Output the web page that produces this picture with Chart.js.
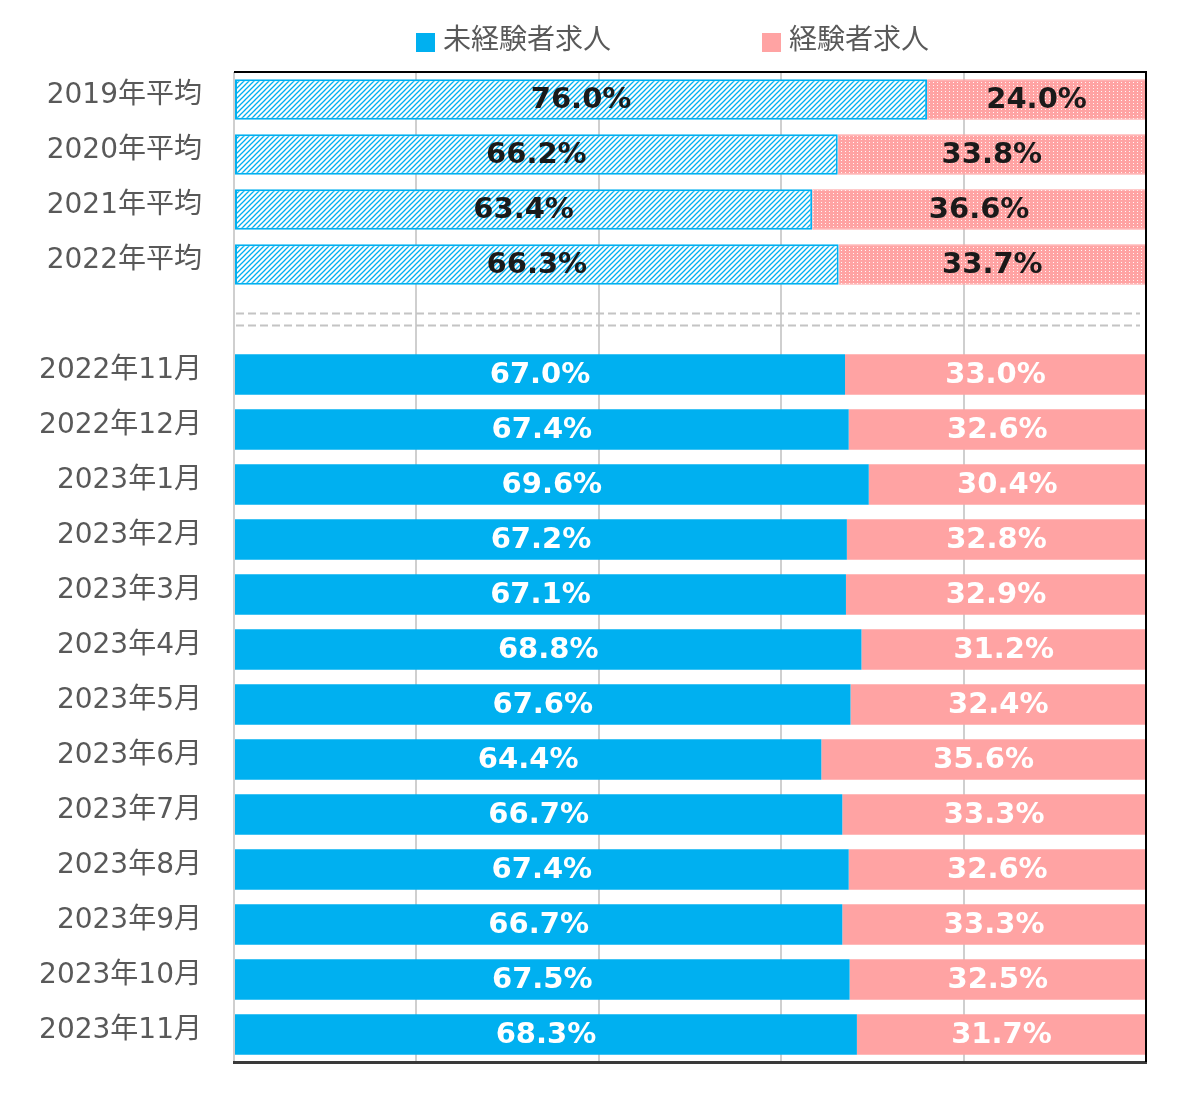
<!DOCTYPE html>
<html>
<head>
<meta charset="utf-8">
<script src="https://cdn.jsdelivr.net/npm/chart.js@4.4.1/dist/chart.umd.min.js"></script>
<style>
html,body{margin:0;padding:0;background:#fff;}
#wrap{width:1200px;height:1106px;position:relative;}
</style>
</head>
<body>
<div id="wrap"><canvas id="c" width="1200" height="1106"></canvas></div>
<script>
// ---- data ----
const categories = ['2019年平均','2020年平均','2021年平均','2022年平均','',
  '2022年11月','2022年12月','2023年1月','2023年2月','2023年3月','2023年4月',
  '2023年5月','2023年6月','2023年7月','2023年8月','2023年9月','2023年10月','2023年11月'];
const inexperienced = [76.0,66.2,63.4,66.3,null,67.0,67.4,69.6,67.2,67.1,68.8,67.6,64.4,66.7,67.4,66.7,67.5,68.3];
const experienced   = [24.0,33.8,36.6,33.7,null,33.0,32.6,30.4,32.8,32.9,31.2,32.4,35.6,33.3,32.6,33.3,32.5,31.7];
const seriesNames = ['未経験者求人','経験者求人'];
const xTicks = [0,20,40,60,80,100];
const averageCount = 4;

const BLUE = '#00b0f0';
const PINK = '#ffa3a3';

function bluePattern(){
  const t = document.createElement('canvas'); t.width = 5; t.height = 5;
  const g = t.getContext('2d');
  g.fillStyle = '#ffffff'; g.fillRect(0,0,5,5);
  g.strokeStyle = BLUE; g.lineWidth = 1.3;
  g.beginPath();
  g.moveTo(-1,6); g.lineTo(6,-1);
  g.moveTo(-1,1); g.lineTo(1,-1);
  g.moveTo(4,6); g.lineTo(6,4);
  g.stroke();
  return g.createPattern(t,'repeat');
}
function pinkPattern(){
  const t = document.createElement('canvas'); t.width = 4; t.height = 3;
  const g = t.getContext('2d');
  g.fillStyle = PINK; g.fillRect(0,0,4,3);
  g.fillStyle = 'rgba(255,255,255,0.9)';
  g.fillRect(1,1,1,1);
  return g.createPattern(t,'repeat');
}
const bPat = bluePattern(), pPat = pinkPattern();

const FONT = '"DejaVu Sans","Noto Sans CJK JP",sans-serif';

const labelsPlugin = {
  id:'barLabels',
  afterDatasetsDraw(chart){
    const ctx = chart.ctx;
    ctx.save();
    ctx.font = 'bold 29px ' + FONT;
    ctx.textAlign = 'center';
    ctx.textBaseline = 'middle';
    chart.data.datasets.forEach((ds, i) => {
      const meta = chart.getDatasetMeta(i);
      meta.data.forEach((bar, j) => {
        const v = ds.data[j];
        if (v == null) return;
        const p = bar.getProps(['x','base','y'], true);
        ctx.fillStyle = j < averageCount ? '#1a1a1a' : '#ffffff';
        ctx.fillText(v.toFixed(1) + '%', (p.x + p.base)/2, p.y + 1);
      });
    });
    ctx.restore();
  }
};

const framePlugin = {
  id:'frame',
  beforeDatasetsDraw(chart){
    const {ctx, chartArea:a, scales:{y}} = chart;
    ctx.save();
    const gy = y.getPixelForValue(averageCount);
    ctx.strokeStyle = '#c4c4c4'; ctx.lineWidth = 2; ctx.setLineDash([8,4]);
    [gy-6, gy+6].forEach(yy => {
      ctx.beginPath(); ctx.moveTo(a.left+2, yy); ctx.lineTo(a.right-6, yy); ctx.stroke();
    });
    ctx.restore();
  },
  afterDraw(chart){
    const {ctx, chartArea:a} = chart;
    ctx.save();
    ctx.strokeStyle = '#000'; ctx.lineWidth = 2;
    ctx.beginPath(); ctx.moveTo(a.left, a.top); ctx.lineTo(a.right+1, a.top); ctx.stroke();
    ctx.beginPath(); ctx.moveTo(a.right, a.top); ctx.lineTo(a.right, a.bottom); ctx.stroke();
    // legend
    ctx.font = '28px ' + FONT;
    ctx.textBaseline = 'middle';
    ctx.textAlign = 'left';
    const items = [{x:416, c:BLUE},{x:762, c:PINK}];
    items.forEach((it, k) => {
      ctx.fillStyle = it.c; ctx.fillRect(it.x, 33, 19, 19);
      ctx.fillStyle = '#595959';
      ctx.fillText(chart.data.datasets[k].label, it.x + 27, 42);
    });
    ctx.restore();
  }
};

new Chart(document.getElementById('c'), {
  type:'bar',
  data:{
    labels: categories,
    datasets:[
      { label: seriesNames[0], data: inexperienced,
        backgroundColor: inexperienced.map((v,i)=> i < averageCount ? bPat : BLUE),
        borderColor: BLUE,
        borderWidth: inexperienced.map((v,i)=> i < averageCount ? 2 : 0),
        borderSkipped: false },
      { label: seriesNames[1], data: experienced,
        backgroundColor: experienced.map((v,i)=> i < averageCount ? pPat : PINK),
        borderColor: PINK,
        borderWidth: experienced.map((v,i)=> i < averageCount ? 1 : 0),
        borderSkipped: false }
    ]
  },
  options:{
    indexAxis:'y',
    responsive:false,
    animation:false,
    devicePixelRatio:1,
    layout:{ padding:{ top:72, right:54, bottom:44, left:0 } },
    datasets:{ bar:{ categoryPercentage:1.0, barPercentage:0.74 } },
    plugins:{ legend:{display:false}, tooltip:{enabled:false} },
    scales:{
      x:{
        stacked:true, min:0, max:100,
        afterBuildTicks(s){ s.ticks = xTicks.map(v=>({value:v})); },
        ticks:{ display:false },
        grid:{ drawTicks:false, lineWidth:2,
          color: c => (c.tick && c.tick.value === 100) ? '#000' : '#cfcfcf' },
        border:{ display:true, color:'#3a3a3a', width:3 },
        afterFit(s){ s.height = 0; s.paddingLeft = 0; s.paddingRight = 0; }
      },
      y:{
        stacked:true,
        grid:{ display:false, drawTicks:false },
        border:{ display:false },
        ticks:{ color:'#595959', padding:32, labelOffset:-4, font:{ family: FONT, size:28 }, autoSkip:false },
        afterFit(s){ s.width = 234; s.paddingTop = 0; s.paddingBottom = 0; }
      }
    }
  },
  plugins:[labelsPlugin, framePlugin]
});
</script>
</body>
</html>
